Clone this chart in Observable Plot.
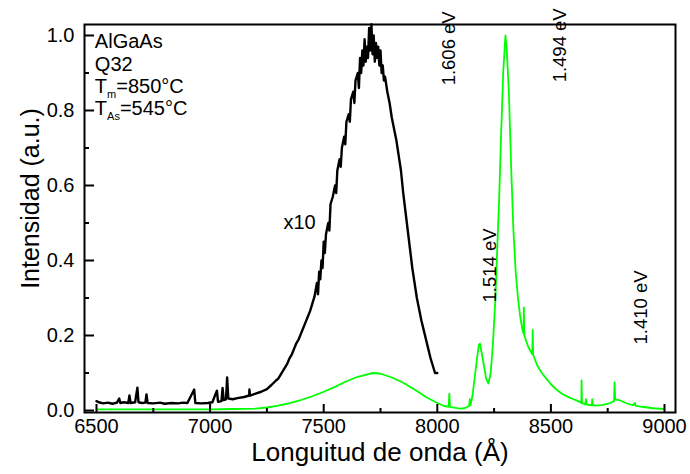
<!DOCTYPE html>
<html>
<head>
<meta charset="utf-8">
<script src="https://cdn.jsdelivr.net/npm/d3@7"></script>
<script src="https://cdn.jsdelivr.net/npm/@observablehq/plot@0.6"></script>
<style>
  html, body { margin: 0; padding: 0; background: #fff; }
  #chart svg { display: block; overflow: visible; }
</style>
</head>
<body>
<div id="chart"></div>
<script>
// ---- Data ----
// Black curve (PL x10)
const blackWl = [6500,6510,6530,6550,6570,6590,6600,6605,6620,6640,6645,6650,6670,6680,6685,6700,6715,6720,6725,6750,6780,6800,6830,6860,6880,6900,6930,6935,6960,6990,7010,7030,7035,7050,7055,7060,7070,7075,7080,7100,7120,7150,7172,7173,7176,7200,7225,7250,7270,7290,7300,7310,7320,7330,7340,7350,7360,7370,7380,7390,7400,7410,7420,7430,7440,7450,7460,7470,7475,7480,7485,7490,7495,7500,7505,7510,7520,7525,7530,7540,7550,7555,7560,7570,7575,7580,7590,7595,7600,7610,7615,7620,7630,7635,7640,7650,7655,7660,7665,7670,7675,7680,7685,7690,7695,7700,7705,7710,7715,7720,7725,7730,7735,7740,7745,7750,7755,7760,7765,7770,7780,7790,7800,7810,7820,7830,7840,7850,7860,7870,7880,7890,7900,7910,7920,7930,7940,7950,7960,7970,7980,7990,8000];
const blackI  = [0.025,0.022,0.019,0.021,0.018,0.021,0.032,0.020,0.022,0.020,0.040,0.020,0.022,0.061,0.022,0.020,0.021,0.043,0.020,0.019,0.021,0.018,0.020,0.019,0.021,0.020,0.056,0.020,0.019,0.020,0.022,0.053,0.023,0.025,0.060,0.028,0.030,0.088,0.032,0.030,0.033,0.036,0.040,0.056,0.040,0.045,0.050,0.057,0.068,0.080,0.085,0.095,0.105,0.115,0.125,0.140,0.150,0.165,0.180,0.190,0.205,0.220,0.235,0.250,0.265,0.285,0.305,0.340,0.310,0.370,0.350,0.400,0.380,0.450,0.420,0.470,0.500,0.480,0.550,0.570,0.600,0.580,0.640,0.670,0.650,0.700,0.730,0.710,0.770,0.790,0.770,0.830,0.850,0.820,0.880,0.900,0.860,0.940,0.900,0.960,0.920,0.990,0.930,0.970,0.940,1.020,0.960,1.030,0.950,1.000,0.930,0.980,0.940,0.970,0.920,0.960,0.900,0.920,0.880,0.890,0.850,0.820,0.780,0.750,0.720,0.680,0.640,0.580,0.530,0.480,0.430,0.380,0.340,0.300,0.270,0.240,0.215,0.190,0.165,0.140,0.120,0.100,0.100];

// Green curve (PL)
const greenWl = [6500,6600,6700,6800,6900,7000,7100,7200,7250,7300,7350,7400,7450,7500,7550,7600,7650,7700,7720,7750,7800,7850,7900,7950,8000,8030,8050,8053,8056,8080,8100,8120,8140,8143,8146,8155,8165,8175,8183,8188,8195,8205,8215,8225,8235,8245,8255,8265,8272,8280,8290,8300,8305,8315,8325,8335,8345,8355,8365,8375,8380,8381,8383,8400,8418,8420,8422,8440,8460,8480,8500,8520,8550,8580,8600,8620,8634,8635,8637,8650,8655,8657,8680,8682,8684,8700,8730,8760,8778,8780,8783,8800,8830,8860,8870,8872,8900,8950,9000];
const greenI  = [0.003,0.003,0.003,0.003,0.003,0.003,0.004,0.005,0.008,0.013,0.020,0.028,0.038,0.050,0.063,0.078,0.090,0.098,0.100,0.098,0.088,0.074,0.056,0.036,0.020,0.012,0.010,0.045,0.010,0.007,0.005,0.006,0.012,0.030,0.014,0.040,0.090,0.140,0.175,0.178,0.155,0.120,0.085,0.072,0.100,0.180,0.290,0.450,0.560,0.720,0.900,1.000,0.970,0.850,0.650,0.480,0.370,0.300,0.250,0.215,0.205,0.275,0.200,0.170,0.150,0.215,0.148,0.120,0.100,0.085,0.070,0.058,0.044,0.035,0.030,0.025,0.020,0.080,0.020,0.016,0.030,0.016,0.014,0.030,0.014,0.013,0.015,0.020,0.025,0.075,0.030,0.028,0.020,0.014,0.020,0.013,0.010,0.006,0.004];

// Axis ticks
const xMajor = [6500, 7000, 7500, 8000, 8500, 9000];
const xMinor = [6750, 7250, 7750, 8250, 8750];
const yMajor = [0, 0.2, 0.4, 0.6, 0.8, 1.0];
const yMinor = [0.1, 0.3, 0.5, 0.7, 0.9];

// Energy labels
const evText = ["1.606 eV", "1.494 eV", "1.514 eV", "1.410 eV"];
const evWl   = [8054, 8542, 8234, 8899];
const evI    = [0.867, 0.875, 0.288, 0.176];

// Scale-factor label
const factorText = ["x10"];
const factorWl = [7323];
const factorI = [0.502];

// Sample info block
const infoMain = ["AlGaAs", "Q32", "T", "T"];
const infoSub  = ["", "", "m", "As"];
const infoRest = ["", "", "=850°C", "=545°C"];
const infoI    = [0.965, 0.904, 0.845, 0.787];
const infoWl   = 6495;

const xTitle = "Longuitud de onda (Å)";
const yTitle = "Intensidad (a.u.)";

// ---- Build tables ----
const black = blackWl.map((w, i) => ({w, v: blackI[i]}));
const green = greenWl.map((w, i) => ({w, v: greenI[i]}));
const evLabels = evText.map((t, i) => ({t, w: evWl[i], v: evI[i]}));
const factor = factorText.map((t, i) => ({t, w: factorWl[i], v: factorI[i]}));

const W = 690, H = 474;
const mL = 84, mR = 15, mT = 24, mB = 62;
const font = "'Liberation Sans', Arial, Helvetica, sans-serif";

const plot = Plot.plot({
  width: W,
  height: H,
  marginLeft: mL,
  marginRight: mR,
  marginTop: mT,
  marginBottom: mB,
  style: {fontFamily: font, fontSize: "20px", color: "black", background: "white", overflow: "visible"},
  x: {domain: [6447.2, 9048.4]},
  y: {domain: [-0.0053, 1.0293]},
  marks: [
    Plot.line(green, {x: "w", y: "v", stroke: "#00ff00", strokeWidth: 1.8}),
    Plot.line(black, {x: "w", y: "v", stroke: "black", strokeWidth: 2.4}),
    Plot.frame({stroke: "black", strokeWidth: 2}),
    // inward ticks
    Plot.axisX({ticks: xMajor, tickSize: -8, tickFormat: () => "", label: null, strokeWidth: 2}),
    Plot.axisX({ticks: xMinor, tickSize: -4, tickFormat: () => "", label: null, strokeWidth: 2}),
    Plot.axisY({ticks: yMajor, tickSize: -10, tickFormat: () => "", label: null, strokeWidth: 2}),
    Plot.axisY({ticks: yMinor, tickSize: -5, tickFormat: () => "", label: null, strokeWidth: 2}),
    // tick labels
    Plot.axisX({ticks: xMajor, tickSize: 0, tickPadding: 6, label: null, fontSize: 20, tickFormat: d3.format("d")}),
    Plot.axisY({ticks: yMajor, tickSize: 0, tickPadding: 10, label: null, fontSize: 20, tickFormat: d3.format(".1f")}),
    Plot.text(evLabels, {x: "w", y: "v", text: "t", rotate: -90, textAnchor: "start", fontSize: 18.5, fill: "black"}),
    Plot.text(factor, {x: "w", y: "v", text: "t", textAnchor: "start", fontSize: 20, fill: "black"}),
    Plot.text([xTitle], {frameAnchor: "bottom", textAnchor: "middle", lineAnchor: "middle", dy: 40, fontSize: 26, fill: "black"}),
    Plot.text([yTitle], {frameAnchor: "left", textAnchor: "middle", lineAnchor: "middle", dx: -54, dy: -20, rotate: -90, fontSize: 25, fill: "black"})
  ]
});

document.getElementById("chart").appendChild(plot);

// Sample info block with subscripts, positioned through Plot's scales
const X = plot.scale("x"), Y = plot.scale("y");
const svg = d3.select(plot);
const g = svg.append("g").attr("font-family", font).attr("fill", "black").attr("text-anchor", "start");
infoMain.forEach((m, i) => {
  const t = g.append("text")
    .attr("x", X.apply(infoWl))
    .attr("y", Y.apply(infoI[i]))
    .attr("font-size", 20);
  t.append("tspan").text(m);
  if (infoSub[i]) {
    t.append("tspan").attr("font-size", 11).attr("dy", 5).text(infoSub[i]);
    t.append("tspan").attr("font-size", 20).attr("dy", -5).text(infoRest[i]);
  }
});
</script>
</body>
</html>
